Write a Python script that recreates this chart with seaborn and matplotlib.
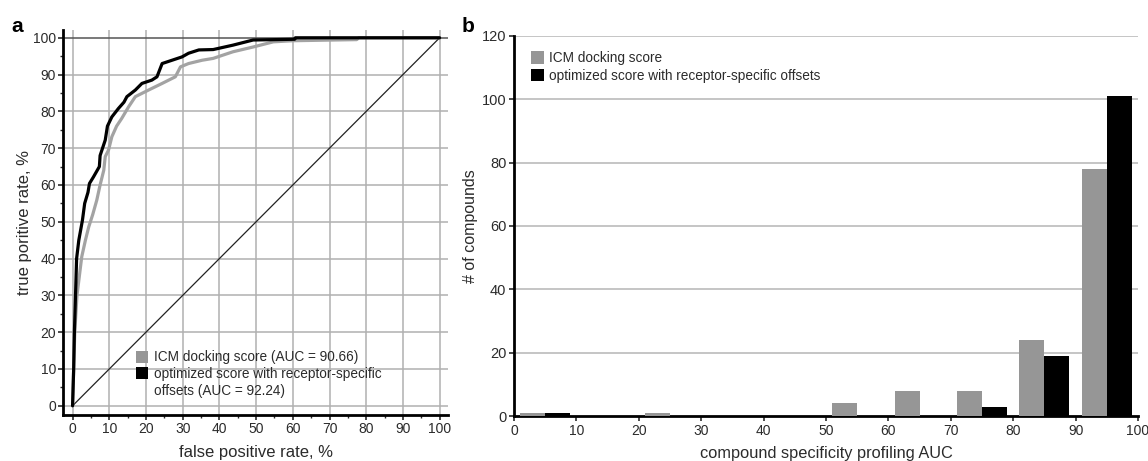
import numpy as np
import pandas as pd
import matplotlib
matplotlib.use("Agg")
import matplotlib.pyplot as plt
from matplotlib.patches import Patch
from matplotlib.ticker import MultipleLocator
import seaborn as sns

# ---- data: panel a (ROC curves, %) ----
fpr_icm = [0, 0.3, 0.6, 1.2, 2.5, 3.5, 4.4, 5.5, 6.6, 7.5, 8.5, 8.9, 9.8, 10.7, 12.0,
           13.4, 15.3, 17.1, 20.7, 24.4, 28.0, 29.4, 31.6, 35.3, 38.3, 43.7, 49.2,
           54.7, 60.0, 77.4, 78.0, 100]
tpr_icm = [0, 10, 20, 30, 40.5, 45, 48.6, 52, 55.9, 60, 64, 67.7, 69.5, 73.1, 76,
           78.1, 81.3, 84, 85.8, 87.6, 89.4, 92.1, 93, 93.9, 94.4, 96.2, 97.5,
           98.9, 99.2, 99.5, 100, 100]
fpr_opt = [0, 0.3, 0.5, 0.8, 1.1, 1.7, 2.7, 3.3, 4.2, 4.6, 5.7, 7.3, 7.5, 8.0, 8.9,
           9.5, 10.7, 12.5, 14.0, 14.8, 17.1, 18.9, 21.6, 23.0, 24.4, 27.1, 29.8,
           31.6, 34.4, 38.3, 43.7, 49.2, 55.0, 60.5, 60.7, 100]
tpr_opt = [0, 10, 20, 30, 40, 45, 50.5, 55, 58, 60.4, 62.2, 65, 68, 69.5, 72.2,
           76, 78.5, 80.8, 82.5, 84, 85.8, 87.6, 88.5, 89.4, 93, 93.9, 94.8,
           95.8, 96.7, 96.8, 98, 99.4, 99.5, 99.6, 100, 100]
label_icm_a = "ICM docking score (AUC = 90.66)"
label_opt_a = "optimized score with receptor-specific"
label_opt_a2 = "offsets (AUC = 92.24)"

# ---- data: panel b (histogram counts per 10-wide AUC bin) ----
bin_starts = [0, 10, 20, 30, 40, 50, 60, 70, 80, 90]
counts_icm = [1, 0, 1, 0, 0, 4, 8, 8, 24, 78]
counts_opt = [1, 0, 0, 0, 0, 0, 0, 3, 19, 101]
label_icm_b = "ICM docking score"
label_opt_b = "optimized score with receptor-specific offsets"

GRAY = "#969696"
LGRAY = "#a3a3a3"
TXT = "#2b2b2b"

sns.set_theme(style="white")
plt.rcParams["font.family"] = ["Liberation Sans", "DejaVu Sans"]
plt.rcParams["text.color"] = TXT
plt.rcParams["axes.labelcolor"] = TXT
plt.rcParams["xtick.color"] = TXT
plt.rcParams["ytick.color"] = TXT

fig = plt.figure(figsize=(11.48, 4.61), dpi=100)
axa = fig.add_axes([0.0549, 0.0998, 0.3354, 0.835])
axb = fig.add_axes([0.4477, 0.0976, 0.5436, 0.8244])

# ---------- panel a ----------
for v in range(0, 101, 10):
    axa.axvline(v, color="#b0b0b0", lw=1.1, zorder=0)
    axa.axhline(v, color="#b0b0b0" if v < 100 else "#555555", lw=1.1, zorder=0)
diag = pd.DataFrame({"x": [0, 100], "y": [0, 100]})
sns.lineplot(data=diag, x="x", y="y", ax=axa, color="#222222", lw=0.9, zorder=2)
roc_icm = pd.DataFrame({"fpr": fpr_icm, "tpr": tpr_icm})
roc_opt = pd.DataFrame({"fpr": fpr_opt, "tpr": tpr_opt})
sns.lineplot(data=roc_icm, x="fpr", y="tpr", sort=False, ax=axa, color=LGRAY, lw=2.3, zorder=3)
sns.lineplot(data=roc_opt, x="fpr", y="tpr", sort=False, ax=axa, color="black", lw=2.3, zorder=4)
axa.set_xlim(-2.6, 102.3)
axa.set_ylim(-2.5, 102.1)
axa.xaxis.set_major_locator(MultipleLocator(10))
axa.yaxis.set_major_locator(MultipleLocator(10))
axa.xaxis.set_minor_locator(MultipleLocator(5))
axa.yaxis.set_minor_locator(MultipleLocator(5))
axa.tick_params(which="major", direction="out", length=3.5, width=1.2, labelsize=10, pad=1.5,
                bottom=True, left=True)
axa.tick_params(which="minor", direction="out", length=2.5, width=1.0, bottom=True, left=True)
for s in ["top", "right"]:
    axa.spines[s].set_visible(False)
for s in ["left", "bottom"]:
    axa.spines[s].set_color("black")
    axa.spines[s].set_linewidth(2.0)
axa.set_xlabel("false positive rate, %", fontsize=12, labelpad=6.5)
axa.set_ylabel("true poritive rate, %", fontsize=12, labelpad=1)
ha = [Patch(facecolor=GRAY, edgecolor="none"), Patch(facecolor="black", edgecolor="none"),
      Patch(facecolor="none", edgecolor="none")]
axa.legend(ha, [label_icm_a, label_opt_a, label_opt_a2], loc="upper left",
           bbox_to_anchor=(0.19, 0.168),
           frameon=False, fontsize=9.8, handlelength=0.9, handleheight=1.0,
           handletextpad=0.4, labelspacing=0.2, borderpad=0, borderaxespad=0)
fig.text(0.010, 0.930, "a", fontsize=15, fontweight="bold", color="black")

# ---------- panel b ----------
n = len(bin_starts)
df = pd.DataFrame({
    "center": [b + 5 for b in bin_starts] * 2,
    "count": counts_icm + counts_opt,
    "series": [label_icm_b] * n + [label_opt_b] * n,
})
for v in range(20, 121, 20):
    axb.axhline(v, color="#b5b5b5", lw=1.1, zorder=0)
sns.barplot(data=df, x="center", y="count", hue="series", native_scale=True,
            palette={label_icm_b: GRAY, label_opt_b: "black"},
            width=0.8, dodge=True, gap=0, linewidth=0, ax=axb, zorder=3, legend=False)
axb.set_xlim(0, 100)
axb.set_ylim(0, 120)
axb.xaxis.set_major_locator(MultipleLocator(10))
axb.yaxis.set_major_locator(MultipleLocator(20))
axb.tick_params(axis="x", which="major", direction="out", length=3.5, width=1.2, labelsize=10,
                pad=2, bottom=True)
axb.tick_params(axis="y", which="major", direction="out", length=3.5, width=1.2, labelsize=10.5,
                pad=2, left=True)
for s in ["top", "right"]:
    axb.spines[s].set_visible(False)
for s in ["left", "bottom"]:
    axb.spines[s].set_color("black")
    axb.spines[s].set_linewidth(2.0)
axb.set_xlabel("compound specificity profiling AUC", fontsize=11.8, labelpad=6)
axb.set_ylabel("# of compounds", fontsize=11.5, labelpad=3)
hb = [Patch(facecolor=GRAY, edgecolor="none"), Patch(facecolor="black", edgecolor="none")]
axb.legend(hb, [label_icm_b, label_opt_b], loc="upper left", bbox_to_anchor=(0.028, 0.96),
           frameon=False, fontsize=9.8, handlelength=0.9, handleheight=1.0,
           handletextpad=0.4, labelspacing=0.25, borderpad=0, borderaxespad=0)
fig.text(0.402, 0.930, "b", fontsize=15, fontweight="bold", color="black")

fig.savefig("out.png", dpi=100)
